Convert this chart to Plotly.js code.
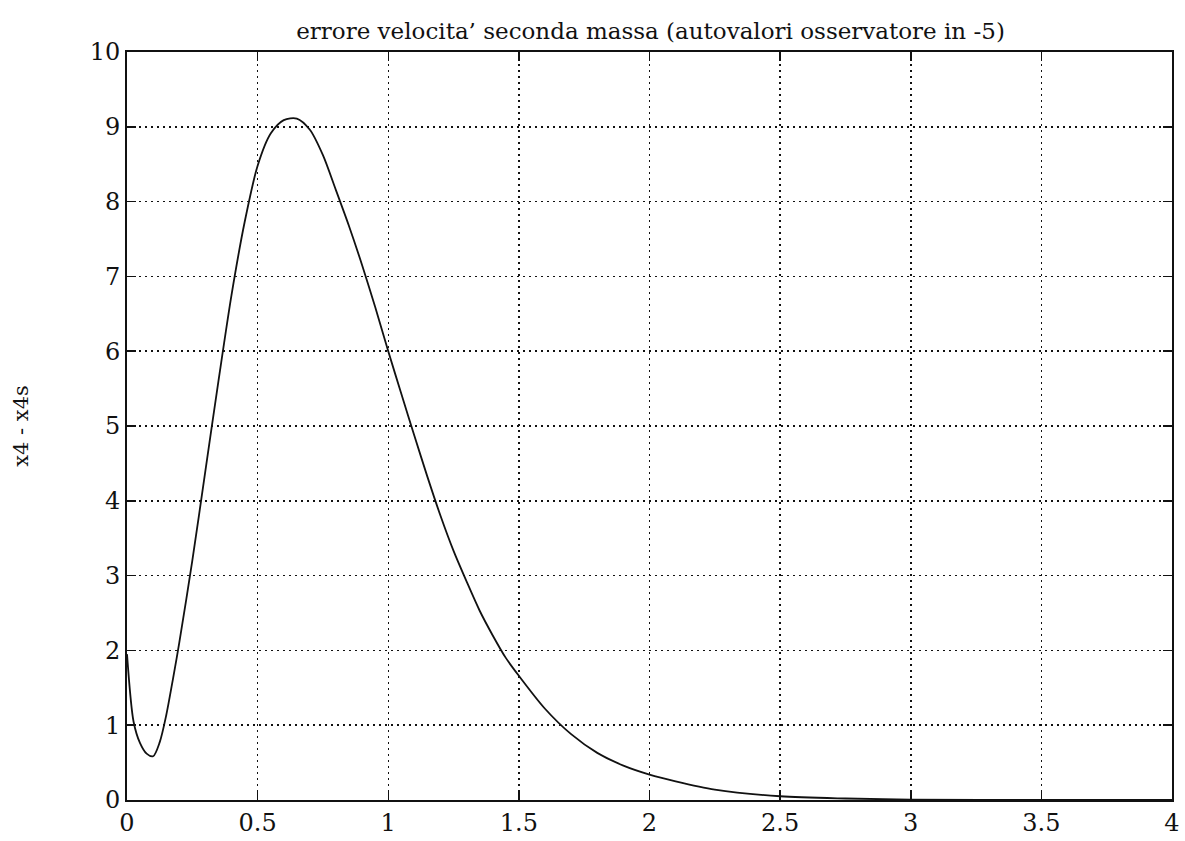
<!DOCTYPE html>
<html>
<head>
<meta charset="utf-8">
<script src="https://cdn.plot.ly/plotly-3.0.1.min.js"></script>
<style>html,body{margin:0;padding:0;background:#fff;}#chart{width:1185px;height:841px;}</style>
</head>
<body>
<div id="chart"></div>
<script>
// Values
const timeValues = [0, 0.025, 0.05, 0.075, 0.1, 0.125, 0.15, 0.175, 0.2, 0.25, 0.3, 0.35, 0.4, 0.45, 0.5, 0.55, 0.6, 0.65, 0.7, 0.75, 0.8, 0.85, 0.9, 0.95, 1.0, 1.05, 1.1, 1.15, 1.2, 1.25, 1.3, 1.35, 1.4, 1.45, 1.5, 1.6, 1.7, 1.8, 1.9, 2.0, 2.1, 2.25, 2.5, 2.75, 3.0, 3.5, 4.0];
const errorValues = [1.95, 1.05, 0.76, 0.62, 0.585, 0.77, 1.13, 1.6, 2.1, 3.2, 4.4, 5.6, 6.75, 7.72, 8.48, 8.91, 9.09, 9.11, 8.96, 8.62, 8.15, 7.67, 7.15, 6.59, 6.0, 5.43, 4.87, 4.32, 3.8, 3.33, 2.92, 2.53, 2.2, 1.9, 1.66, 1.22, 0.88, 0.63, 0.46, 0.34, 0.25, 0.14, 0.05, 0.02, 0.006, 0.001, 0.0];
const xTicks = [0, 0.5, 1, 1.5, 2, 2.5, 3, 3.5, 4];
const xTickLabels = ["0", "0.5", "1", "1.5", "2", "2.5", "3", "3.5", "4"];
const yTicks = [0, 1, 2, 3, 4, 5, 6, 7, 8, 9, 10];
const yTickLabels = ["0", "1", "2", "3", "4", "5", "6", "7", "8", "9", "10"];
const chartTitle = "errore velocita’ seconda massa (autovalori osservatore in -5)";
const yTitle = "x4 - x4s";

const serif = "DejaVu Serif, Liberation Serif, serif";

const trace = {
  x: timeValues,
  y: errorValues,
  type: "scatter",
  mode: "lines",
  line: {color: "#111", width: 1.8, shape: "spline", smoothing: 0.8},
  hoverinfo: "x+y"
};

const axisCommon = {
  showline: true,
  linecolor: "#111",
  linewidth: 1.8,
  mirror: "ticks",
  ticks: "inside",
  ticklen: 9,
  tickwidth: 1.5,
  tickcolor: "#111",
  showgrid: true,
  gridcolor: "#111",
  gridwidth: 1.5,
  griddash: "1.5px,4.5px",
  zeroline: false,
  tickfont: {family: serif, size: 24, color: "#111"}
};

const layout = {
  width: 1185,
  height: 841,
  paper_bgcolor: "#fff",
  plot_bgcolor: "#fff",
  margin: {l: 127, r: 13, t: 52, b: 41, autoexpand: false},
  showlegend: false,
  title: {text: chartTitle, font: {family: serif, size: 23, color: "#111"}, x: 0.549, xanchor: "center", y: 0.963, yanchor: "middle"},
  xaxis: Object.assign({}, axisCommon, {range: [0, 4], tickvals: xTicks, ticktext: xTickLabels}),
  yaxis: Object.assign({}, axisCommon, {range: [0, 10], tickvals: yTicks, ticktext: yTickLabels,
    title: {text: yTitle, font: {family: serif, size: 21, color: "#111"}, standoff: 55}})
};

Plotly.newPlot("chart", [trace], layout, {displayModeBar: false, staticPlot: true});
</script>
</body>
</html>
